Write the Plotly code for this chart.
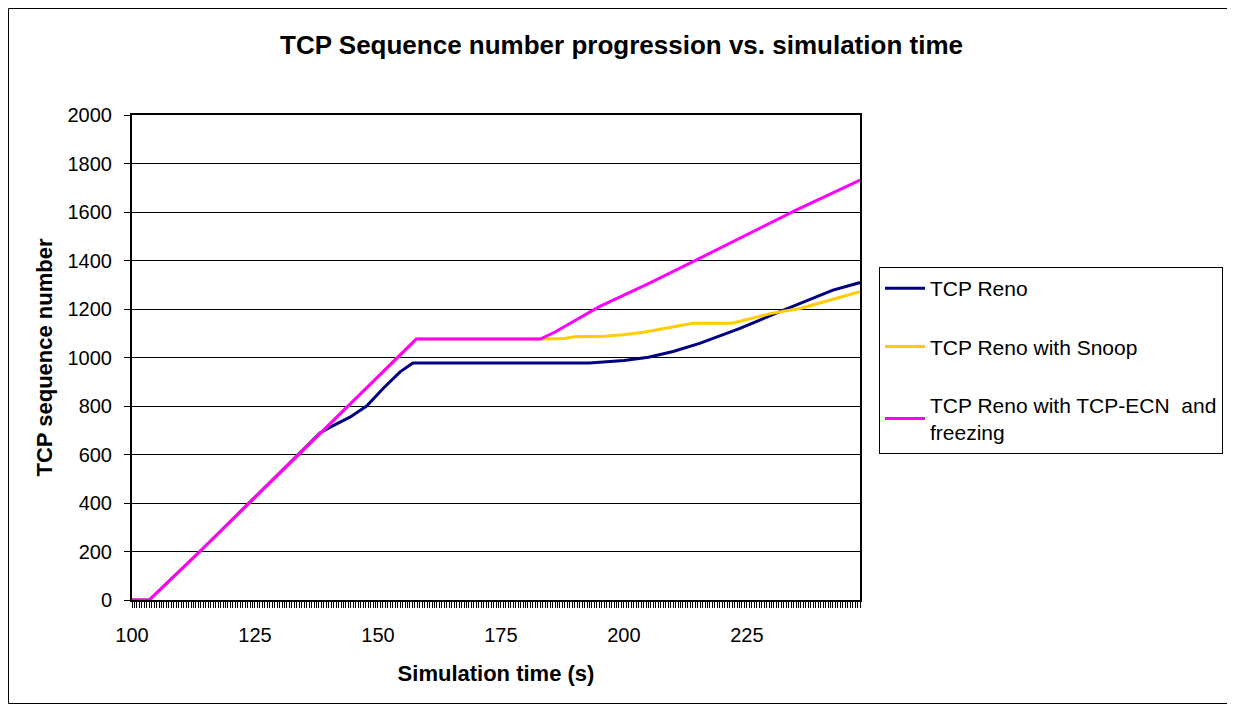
import plotly.graph_objects as go

# values (time in s, sequence number)
reno_t = [100, 103.5, 113.8, 124, 133.5, 138.2, 140.2, 144.3, 147.7, 151.1, 154.5, 157.1,
          193, 195, 200, 205, 210, 215.4, 223.6, 231.7, 235.8, 242.5, 248]
reno_seq = [0, 0, 200, 404, 593, 689, 712, 754, 800, 873, 941, 977,
            977, 980, 988, 1001, 1025, 1058, 1120, 1189, 1223, 1278, 1309]

snoop_t = [100, 103.5, 113.8, 124, 133.5, 143.6, 150, 157.8, 183, 188, 190, 196,
           200, 204, 214, 222, 230, 236, 248]
snoop_seq = [0, 0, 200, 404, 593, 794, 920, 1076, 1076, 1078, 1086, 1088,
             1094, 1104, 1141, 1141, 1182, 1203, 1271]

ecn_t = [100, 103.5, 113.8, 124, 133.5, 143.6, 150, 157.8, 183, 186, 195, 200,
         205, 215.4, 225, 235, 248]
ecn_seq = [0, 0, 200, 404, 593, 794, 920, 1076, 1076, 1105, 1210, 1258,
           1305, 1409, 1505, 1608, 1732]

x_ticks = [100, 125, 150, 175, 200, 225]
y_ticks = list(range(0, 2001, 200))

FONT = "Arial, Liberation Sans, sans-serif"

series = [
    ("TCP Reno", reno_t, reno_seq, "#000080"),
    ("TCP Reno with Snoop", snoop_t, snoop_seq, "#FFCC00"),
    ("TCP Reno with TCP-ECN  and<br>freezing", ecn_t, ecn_seq, "#FF00FF"),
]

fig = go.Figure()
for i, (name, t, v, color) in enumerate(series):
    fig.add_trace(
        go.Scatter(
            x=t, y=v, name=name, mode="lines",
            line=dict(color=color, width=3),
            legendgroup=f"g{i}",
        )
    )

# page body has an 8px margin, so figure coords are page coords minus 8
OFF = 8
W, H = 1235 - OFF, 704 - OFF
L, R, T, B = 132 - OFF, 860 - OFF, 115 - OFF, 600 - OFF
pw, ph = R - L, B - T

fig.update_layout(
    width=W, height=H,
    margin=dict(l=L, r=W - R, t=T, b=H - B),
    paper_bgcolor="white", plot_bgcolor="white",
    font=dict(family=FONT, size=20, color="black"),
    title=dict(
        text="<b>TCP Sequence number progression vs. simulation time</b>",
        x=0.5, xref="container", xanchor="center",
        y=1 - (45 - OFF) / H, yanchor="middle",
        font=dict(size=26),
    ),
    showlegend=True,
    legend=dict(
        x=(879 - 132) / pw, y=(600 - 267) / ph, xanchor="left", yanchor="top",
        bordercolor="black", borderwidth=1, bgcolor="white",
        font=dict(size=21), tracegroupgap=28, itemwidth=40,
    ),
    shapes=[
        dict(
            type="rect", xref="paper", yref="paper",
            x0=-(L - 0.5) / pw, x1=(W - 0.5 - L) / pw,
            y0=-(H - 0.5 - B) / ph, y1=(B - 0.5) / ph,
            line=dict(color="black", width=1), layer="below",
        )
    ],
)

fig.update_xaxes(
    range=[100, 248], tickvals=x_ticks, ticks="outside", ticklen=6,
    tickcolor="black", showgrid=False, zeroline=False,
    showline=True, linecolor="black", linewidth=2, mirror=True,
    minor=dict(dtick=0.5, ticks="outside", ticklen=6, tickcolor="black", tickwidth=1, showgrid=False),
    title=dict(text="<b>Simulation time (s)</b>", standoff=21, font=dict(size=22)),
    tickfont=dict(size=20), ticklabelstandoff=10,
)
fig.update_yaxes(
    range=[0, 2000], tickvals=y_ticks, ticks="outside", ticklen=6,
    tickcolor="black", showgrid=True, gridcolor="black", gridwidth=1,
    zeroline=False, showline=True, linecolor="black", linewidth=2, mirror=True,
    title=dict(text="<b>TCP sequence number</b>", standoff=9, font=dict(size=22)),
    tickfont=dict(size=20), ticklabelstandoff=8,
)

fig.write_html("out.html")
